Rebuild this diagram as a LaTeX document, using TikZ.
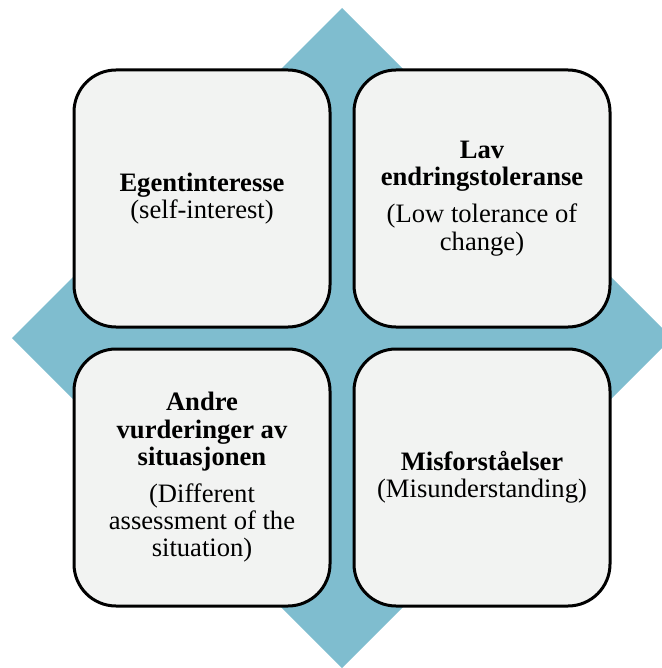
\documentclass[tikz,border=0pt]{standalone}
\usepackage{fontspec}
\setmainfont{Liberation Serif}
\definecolor{diamondblue}{HTML}{7FBDCF}
\definecolor{boxfill}{HTML}{F2F3F2}
\begin{document}
\begin{tikzpicture}[x=0.5pt,y=-0.5pt,
  box/.style={draw=black, line width=1.5pt, fill=boxfill, rounded corners=21pt,
    minimum width=128pt, minimum height=128.5pt, align=center, inner sep=0pt,
    font=\fontsize{13.3}{13.6}\selectfont}]
  \useasboundingbox (0,0) rectangle (662,668);
  \begin{scope}
    \clip (0,0) rectangle (662,668);
    \fill[diamondblue] (342,8) -- (672,338) -- (342,668) -- (12,338) -- cycle;
  \end{scope}
  \node[box] (tl) at (202,198.5) {\textbf{Egentinteresse}\\(self-interest)};
  \node[box] (tr) at (482,198.5) {\textbf{Lav}\\\textbf{endringstoleranse}\\[5pt](Low tolerance of\\change)};
  \node[box] (bl) at (202,477.5) {\textbf{Andre}\\\textbf{vurderinger av}\\\textbf{situasjonen}\\[5pt](Different\\assessment of the\\situation)};
  \node[box] (br) at (482,477.5) {\textbf{Misforståelser}\\(Misunderstanding)};
\end{tikzpicture}
\end{document}
